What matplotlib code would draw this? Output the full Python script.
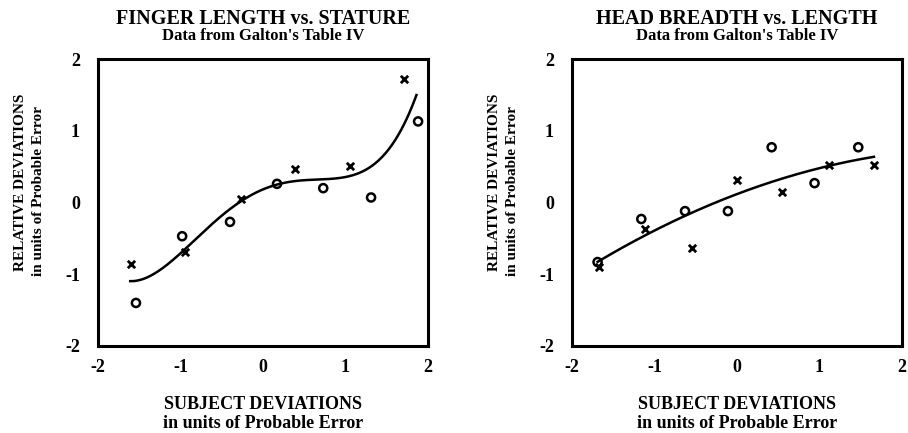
import numpy as np
import matplotlib.pyplot as plt

plt.rcParams['font.family'] = ['Liberation Serif', 'DejaVu Serif']
plt.rcParams['font.weight'] = 'bold'
plt.rcParams['axes.unicode_minus'] = False

# finger length vs stature
finger_x_cross = [-1.60, -0.94, -0.27, 0.39, 1.05, 1.71]
finger_y_cross = [-0.86, -0.69, 0.05, 0.46, 0.51, 1.72]
finger_x_circ = [-1.54, -0.98, -0.40, 0.17, 0.73, 1.31, 1.88]
finger_y_circ = [-1.40, -0.47, -0.27, 0.26, 0.20, 0.07, 1.13]
# trend line
finger_curve_x = [-1.61, -1.33, -0.93, -0.60, -0.28, 0.05, 0.37, 0.77, 1.10, 1.42, 1.70, 1.86]
finger_curve_y = [-1.10, -0.99, -0.64, -0.29, 0.01, 0.22, 0.29, 0.32, 0.38, 0.62, 1.06, 1.50]

# head breadth vs length
head_x_circ = [-1.69, -1.16, -0.63, -0.11, 0.42, 0.94, 1.47]
head_y_circ = [-0.83, -0.23, -0.12, -0.12, 0.77, 0.27, 0.77]
head_x_cross = [-1.67, -1.11, -0.55, 0.00, 0.55, 1.11, 1.66]
head_y_cross = [-0.90, -0.37, -0.64, 0.31, 0.15, 0.52, 0.52]

ticks = [-2, -1, 0, 1, 2]
H = 433.0
W = 908.0

fig = plt.figure(figsize=(9.08, 4.33), dpi=100)


def panel(left, xc, yc, xo, yo, cx_pts, cy_pts, deg, title):
    ax = fig.add_axes([left / W, 87 / H, 330 / W, 287 / H])
    ax.set_xlim(-2, 2)
    ax.set_ylim(-2, 2)
    ax.set_xticks(ticks)
    ax.set_yticks(ticks)
    ax.tick_params(length=0, labelsize=13)
    ax.tick_params(axis='x', pad=9)
    ax.tick_params(axis='y', pad=13)
    for lab in ax.get_xticklabels() + ax.get_yticklabels():
        lab.set_fontweight('bold')
    for s in ax.spines.values():
        s.set_linewidth(2.2)
    cx_pts = np.array(cx_pts)
    p = np.polyfit(cx_pts, np.array(cy_pts), deg)
    xs = np.linspace(cx_pts.min(), cx_pts.max(), 200)
    ax.plot(xs, np.polyval(p, xs), color='black', lw=1.8)
    ax.scatter(xc, yc, marker='x', s=28, color='black', linewidths=2.0, zorder=3)
    ax.scatter(xo, yo, marker='o', s=34, facecolors='none', edgecolors='black',
               linewidths=1.8, zorder=3)
    # titles and labels
    cx = (left + 165) / W
    fig.text(cx, 1 - 24.5 / H, title, ha='center', va='baseline', fontsize=14.5, fontweight='bold')
    fig.text(cx, 1 - 40.5 / H, "Data from Galton's Table IV", ha='center', va='baseline',
             fontsize=12, fontweight='bold')
    fig.text(cx, 1 - 409 / H, 'SUBJECT DEVIATIONS', ha='center', va='baseline',
             fontsize=13, fontweight='bold')
    fig.text(cx, 1 - 428 / H, 'in units of Probable Error', ha='center', va='baseline',
             fontsize=13, fontweight='bold')
    lx = (left - 74) / W
    fig.text(lx, 1 - 182.5 / H, 'RELATIVE DEVIATIONS', ha='center', va='baseline',
             rotation=90, rotation_mode='anchor', fontsize=11, fontweight='bold')
    fig.text(lx + 18 / W, 1 - 190.5 / H, 'in units of Probable Error', ha='center',
             va='baseline', rotation=90, rotation_mode='anchor', fontsize=11,
             fontweight='bold')
    return ax


panel(98, finger_x_cross, finger_y_cross, finger_x_circ, finger_y_circ,
      finger_curve_x, finger_curve_y, 5, 'FINGER LENGTH vs. STATURE')
panel(572, head_x_cross, head_y_cross, head_x_circ, head_y_circ,
      head_x_cross + head_x_circ, head_y_cross + head_y_circ, 2, 'HEAD BREADTH vs. LENGTH')

fig.savefig('out.png', dpi=100)
